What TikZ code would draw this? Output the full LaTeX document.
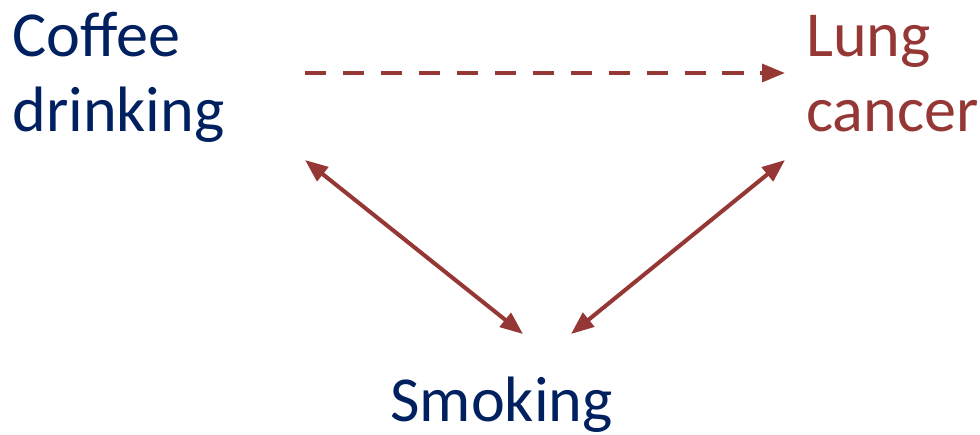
\documentclass[tikz,border=0pt]{standalone}
\usepackage{fontspec}
\setmainfont{Carlito}
\usepackage{xcolor}
\usepackage{tikz}
\usetikzlibrary{positioning, arrows.meta, calc}

\definecolor{navytext}{HTML}{002060}
\definecolor{darkred}{HTML}{953735}

\begin{document}
\begin{tikzpicture}[
        x=0.02cm, y=-0.02cm,
        >={Triangle[length=13pt, width=10pt]}, % Arrowhead style
        label/.style={inner sep=0pt, anchor=base west, align=left, font=\fontsize{36.5}{42.5}\selectfont},
        causal/.style={draw=darkred, line width=2.3pt},
        confound/.style={causal, <->},
        spurious/.style={causal, ->, dash pattern=on 12pt off 9.6pt}
    ]
    \useasboundingbox (0,0) rectangle (980,434);

    % ==========================================
    % 1. VARIABLES
    % ==========================================
    \node[label, text=navytext] (coffee) at (12, 131)  {Coffee\\drinking};
    \node[label, text=darkred]  (cancer) at (806, 131) {Lung\\cancer};
    \node[label, text=navytext] (smoking) at (390, 421) {Smoking};

    % ==========================================
    % 2. ARROW END POINTS
    % ==========================================
    \coordinate (coffee_r)  at (305, 73);
    \coordinate (cancer_l)  at (785, 73);
    \coordinate (coffee_d)  at (305, 160);
    \coordinate (cancer_d)  at (785, 160);
    \coordinate (smoke_l)   at (523, 334);
    \coordinate (smoke_r)   at (571, 334);

    % ==========================================
    % 3. CONNECTIONS
    % ==========================================

    % Coffee drinking -> Lung cancer (not causal)
    \draw[spurious] (coffee_r) -- (cancer_l);

    % Smoking <-> both
    \draw[confound] (coffee_d) -- (smoke_l);
    \draw[confound] (cancer_d) -- (smoke_r);

\end{tikzpicture}
\end{document}
